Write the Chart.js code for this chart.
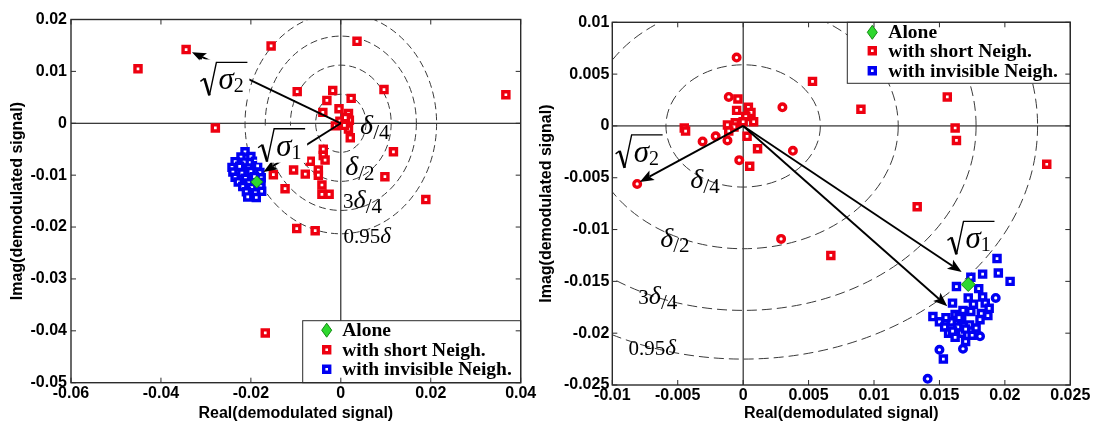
<!DOCTYPE html>
<html>
<head>
<meta charset="utf-8">
<script src="https://cdn.jsdelivr.net/npm/chart.js@4/dist/chart.umd.min.js"></script>
<style>
  html, body { margin: 0; padding: 0; background: #fff; }
  body { width: 1093px; height: 425px; position: relative; overflow: hidden; }
  canvas { position: absolute; top: 0; }
  #left { left: 0; }
  #right { left: 530px; }
</style>
</head>
<body>
<canvas id="left" width="540" height="425"></canvas>
<canvas id="right" width="563" height="425"></canvas>
<script>
// ---------- left panel data ----------
const leftXTicks = [-0.06, -0.04, -0.02, 0, 0.02, 0.04];
const leftYTicks = [-0.05, -0.04, -0.03, -0.02, -0.01, 0, 0.01, 0.02];
const leftAlone = [[-0.0187, -0.0113]];
const leftShort = [
  [-0.0451, 0.0105], [-0.0344, 0.0142], [-0.0279, -0.0009], [-0.0155, 0.0149], [-0.0150, -0.0099],
  [0.0036, 0.0158], [-0.0097, 0.0061], [-0.0018, 0.0063], [-0.0031, 0.0044], [0.0023, 0.0048],
  [0.0096, 0.0065], [0.0367, 0.0055], [-0.0004, 0.0028], [-0.0040, 0.0021], [0.0017, 0.0019],
  [0.0019, 0.0006], [0.0017, -0.0011], [0.0021, -0.0028], [0.0117, -0.0055], [-0.0039, -0.0050],
  [-0.0039, -0.0062], [-0.0035, -0.0071], [-0.0068, -0.0073], [-0.0105, -0.0090], [-0.0079, -0.0098],
  [-0.0050, -0.0090], [-0.0050, -0.0100], [-0.0124, -0.0126], [0.0098, -0.0103], [-0.0042, -0.0119],
  [-0.0042, -0.0137], [-0.0026, -0.0137], [0.0189, -0.0147], [-0.0098, -0.0203], [-0.0057, -0.0207],
  [-0.0168, -0.0404], [-0.0012, -0.0005], [-0.0002, 0.0004], [0.0008, -0.0004], [0.0010, 0.0011]
];
const leftInvisible = [
  [-0.0213, -0.0055], [-0.0222, -0.0065], [-0.0200, -0.0064], [-0.0235, -0.0074], [-0.0215, -0.0075],
  [-0.0190, -0.0073], [-0.0242, -0.0085], [-0.0225, -0.0083], [-0.0205, -0.0086], [-0.0185, -0.0082],
  [-0.0240, -0.0094], [-0.0220, -0.0096], [-0.0200, -0.0093], [-0.0180, -0.0095], [-0.0235, -0.0104],
  [-0.0212, -0.0106], [-0.0192, -0.0103], [-0.0177, -0.0105], [-0.0228, -0.0113], [-0.0205, -0.0115],
  [-0.0178, -0.0114], [-0.0218, -0.0122], [-0.0198, -0.0124], [-0.0178, -0.0122], [-0.0210, -0.0132],
  [-0.0190, -0.0134], [-0.0176, -0.0131], [-0.0207, -0.0142], [-0.0188, -0.0143]
];
// dashed circles: delta/4, delta/2, 3delta/4, 0.95delta
const leftRadii = [0.0056, 0.0112, 0.0168, 0.0213];
// arrows [x0, y0, x1, y1]
const leftArrows = [[0, 0, -0.0331, 0.0137], [0, 0, -0.0172, -0.0094]];

// ---------- right panel data ----------
const rightXTicks = [-0.01, -0.005, 0, 0.005, 0.01, 0.015, 0.02, 0.025];
const rightYTicks = [-0.025, -0.02, -0.015, -0.01, -0.005, 0, 0.005, 0.01];
const rightAlone = [[0.0172, -0.0153]];
const rightShort = [
  [-0.0005, 0.0066], [0.0053, 0.0043], [-0.0011, 0.0028], [-0.0004, 0.0026], [0.0030, 0.0018],
  [-0.0005, 0.0015], [0.0004, 0.0018], [0.0006, 0.0013], [0.0002, 0.0009], [0.0008, 0.0004],
  [-0.0012, 0.0001], [-0.0006, 0.0003], [-0.0045, -0.0002], [-0.0044, -0.0005], [-0.0021, -0.0010],
  [-0.0031, -0.0015], [-0.0012, -0.0014], [0.0003, -0.0010], [0.0011, -0.0022], [0.0038, -0.0024],
  [-0.0003, -0.0033], [0.0005, -0.0039], [-0.0081, -0.0056], [0.0090, 0.0016], [0.0156, 0.0028],
  [0.0162, -0.0002], [0.0163, -0.0014], [0.0232, -0.0037], [0.0133, -0.0078], [0.0029, -0.0109],
  [0.0067, -0.0125], [-0.0007, -0.0001], [-0.0011, -0.0005], [0.0000, 0.0004]
];
const rightShortRound = [0, 2, 4, 14, 15, 16, 19, 20, 22, 29];
const rightInvisible = [
  [0.0194, -0.0128], [0.0183, -0.0143], [0.0195, -0.0142], [0.0204, -0.0150], [0.0174, -0.0146],
  [0.0163, -0.0155], [0.0180, -0.0157], [0.0172, -0.0166], [0.0183, -0.0165], [0.0193, -0.0166],
  [0.0160, -0.0171], [0.0185, -0.0171], [0.0188, -0.0176], [0.0145, -0.0184], [0.0162, -0.0182],
  [0.0174, -0.0179], [0.0182, -0.0181], [0.0187, -0.0183], [0.0150, -0.0189], [0.0159, -0.0189],
  [0.0167, -0.0187], [0.0181, -0.0187], [0.0154, -0.0194], [0.0164, -0.0194], [0.0173, -0.0192],
  [0.0157, -0.0200], [0.0167, -0.0200], [0.0175, -0.0202], [0.0162, -0.0204], [0.0181, -0.0203],
  [0.0170, -0.0208], [0.0168, -0.0215], [0.0150, -0.0216], [0.0153, -0.0225], [0.0141, -0.0244],
  [0.0165, -0.0185], [0.0170, -0.0196], [0.0160, -0.0198], [0.0178, -0.0195], [0.0155, -0.0185],
  [0.0168, -0.0178], [0.0176, -0.0172]
];
const rightInvisibleRound = [9, 29, 31, 32, 34];
const rightRadii = [0.0059, 0.01185, 0.0178, 0.0225];
const rightArrows = [[0, 0, -0.0079, -0.0054], [0, 0, 0.0167, -0.0141], [0, 0, 0.0156, -0.0174]];

const labels = ['Alone', 'with short Neigh.', 'with invisible Neigh.'];

// ---------- drawing helpers ----------
const SERIF = '"Liberation Serif", "Times New Roman", serif';
const SANS = '"Liberation Sans", Arial, sans-serif';
const FRAME = '#2b2b2b';

function pointsOf(arr) { return arr.map(([x, y]) => ({x, y})); }

function drawArrow(ctx, x1, y1, x2, y2) {
  const ang = Math.atan2(y2 - y1, x2 - x1), L = 14, W = 5.5;
  const bx = x2 - L * Math.cos(ang), by = y2 - L * Math.sin(ang);
  ctx.beginPath(); ctx.moveTo(x1, y1); ctx.lineTo(bx + 3 * Math.cos(ang), by + 3 * Math.sin(ang)); ctx.stroke();
  ctx.beginPath();
  ctx.moveTo(x2, y2);
  ctx.lineTo(bx + W * Math.sin(ang), by - W * Math.cos(ang));
  ctx.lineTo(bx + 3 * Math.cos(ang), by + 3 * Math.sin(ang));
  ctx.lineTo(bx - W * Math.sin(ang), by + W * Math.cos(ang));
  ctx.closePath(); ctx.fill();
}

// sqrt(sigma_n) label centred on (cx, cy)
function drawRoot(ctx, cx, cy, sub, whiteBg) {
  const w = 47, h = 34, x0 = cx - w / 2, y0 = cy - h / 2;
  if (whiteBg) { ctx.fillStyle = '#fff'; ctx.fillRect(x0 - 1, y0 - 2, w + 3, h + 3); }
  ctx.fillStyle = '#000'; ctx.strokeStyle = '#000';
  ctx.lineWidth = 1.4;
  ctx.beginPath(); ctx.moveTo(x0, y0 + 20); ctx.lineTo(x0 + 4, y0 + 17); ctx.stroke();
  ctx.lineWidth = 2.6;
  ctx.beginPath(); ctx.moveTo(x0 + 4, y0 + 17); ctx.lineTo(x0 + 9, y0 + h); ctx.stroke();
  ctx.lineWidth = 1.4;
  ctx.beginPath(); ctx.moveTo(x0 + 9, y0 + h); ctx.lineTo(x0 + 16, y0 + 1); ctx.lineTo(x0 + w, y0 + 1); ctx.stroke();
  ctx.textAlign = 'left'; ctx.textBaseline = 'alphabetic';
  ctx.font = 'italic 31px ' + SERIF;
  ctx.fillText('σ', x0 + 18, y0 + 28);
  const sw = ctx.measureText('σ').width;
  ctx.font = '20px ' + SERIF;
  ctx.fillText(sub, x0 + 18 + sw, y0 + 31);
}

// [pre] delta [sub] label, left edge at x, baseline at y
function drawDelta(ctx, x, y, d) {
  ctx.fillStyle = '#000'; ctx.textAlign = 'left'; ctx.textBaseline = 'alphabetic';
  let cx = x;
  if (d.pre) { ctx.font = '21px ' + SERIF; ctx.fillText(d.pre, cx, y); cx += ctx.measureText(d.pre).width; }
  ctx.font = 'italic ' + d.size + 'px ' + SERIF;
  ctx.fillText('δ', cx, y); cx += ctx.measureText('δ').width;
  if (d.sub) { ctx.font = '21px ' + SERIF; ctx.fillText(d.sub, cx, y + 5); }
}

function legendMarker(ctx, ds, x, y) {
  ctx.fillStyle = ds.backgroundColor; ctx.strokeStyle = ds.borderColor; ctx.lineWidth = ds.borderWidth;
  ctx.beginPath();
  if (ds.legendStyle === 'diamond') {
    ctx.moveTo(x, y - 7); ctx.lineTo(x + 5, y); ctx.lineTo(x, y + 7); ctx.lineTo(x - 5, y); ctx.closePath();
  } else {
    ctx.rect(x - 3, y - 3, 6, 6);
  }
  ctx.fill(); ctx.stroke();
}

const deco = {
  id: 'deco',
  beforeDatasetsDraw(chart, args, o) {
    const {ctx, chartArea: a, scales: {x, y}} = chart;
    const x0 = x.getPixelForValue(0), y0 = y.getPixelForValue(0);
    ctx.save();
    ctx.beginPath(); ctx.rect(a.left, a.top, a.width, a.height); ctx.clip();
    ctx.strokeStyle = '#000'; ctx.lineWidth = 1;
    ctx.beginPath();
    ctx.moveTo(x0, a.top); ctx.lineTo(x0, a.bottom);
    ctx.moveTo(a.left, y0); ctx.lineTo(a.right, y0);
    ctx.stroke();
    ctx.setLineDash(o.dash); ctx.strokeStyle = '#3a3a3a'; ctx.lineWidth = 1;
    o.radii.forEach(r => {
      const rx = x.getPixelForValue(r) - x0, ry = y0 - y.getPixelForValue(r);
      ctx.beginPath(); ctx.ellipse(x0, y0, rx, ry, 0, 0, Math.PI * 2); ctx.stroke();
    });
    ctx.restore();
  },
  afterDatasetsDraw(chart, args, o) {
    const {ctx, scales: {x, y}} = chart;
    ctx.save();
    ctx.strokeStyle = '#000'; ctx.fillStyle = '#000'; ctx.lineWidth = 1.9;
    o.arrows.forEach(([a, b, c, d]) => drawArrow(ctx, x.getPixelForValue(a), y.getPixelForValue(b), x.getPixelForValue(c), y.getPixelForValue(d)));
    o.roots.forEach(r => drawRoot(ctx, x.getPixelForValue(r.at[0]), y.getPixelForValue(r.at[1]), r.sub, o.whiteBg));
    o.deltas.forEach(d => drawDelta(ctx, x.getPixelForValue(d.at[0]), y.getPixelForValue(d.at[1]), d));
    ctx.restore();
  },
  afterDraw(chart, args, o) {
    const {ctx, chartArea: a, scales: {x, y}} = chart;
    ctx.save();
    // legend box
    const lg = o.legend;
    const lx = a.right - lg.w, ly = lg.corner === 'top' ? a.top : a.bottom - lg.h;
    ctx.fillStyle = '#fff'; ctx.fillRect(lx, ly, lg.w, lg.h);
    ctx.strokeStyle = FRAME; ctx.lineWidth = 1; ctx.strokeRect(lx, ly, lg.w, lg.h);
    ctx.font = 'bold 19.5px ' + SERIF; ctx.textAlign = 'left'; ctx.textBaseline = 'middle';
    chart.data.datasets.forEach((ds, i) => {
      const ry = ly + lg.rows[i];
      legendMarker(ctx, ds, lx + lg.markerX, ry);
      ctx.fillStyle = '#000';
      ctx.fillText(ds.label, lx + lg.textX, ry + 1);
    });
    // frame and inward ticks on all sides
    ctx.strokeStyle = FRAME; ctx.lineWidth = 1.4;
    ctx.strokeRect(a.left, a.top, a.width, a.height);
    ctx.lineWidth = 1; const t = 5;
    ctx.beginPath();
    o.xTicks.forEach(v => {
      const p = x.getPixelForValue(v);
      ctx.moveTo(p, a.bottom); ctx.lineTo(p, a.bottom - t);
      ctx.moveTo(p, a.top); ctx.lineTo(p, a.top + t);
    });
    o.yTicks.forEach(v => {
      const p = y.getPixelForValue(v);
      ctx.moveTo(a.left, p); ctx.lineTo(a.left + t, p);
      ctx.moveTo(a.right, p); ctx.lineTo(a.right - t, p);
    });
    ctx.stroke();
    ctx.restore();
  }
};

function fmt(v) { return v === 0 ? '0' : String(+v.toFixed(3)); }

function makeChart(id, cfg) {
  const tickFont = {family: SANS, weight: 'bold', size: 16};
  const datasets = [
    {label: labels[0], data: pointsOf(cfg.alone), pointStyle: 'rectRot', pointRadius: cfg.diamond,
     backgroundColor: '#2ed82e', borderColor: '#128a12', borderWidth: 1, legendStyle: 'diamond'},
    {label: labels[1], data: pointsOf(cfg.short), borderColor: '#ee0010', backgroundColor: '#fff', borderWidth: 3.4,
     pointStyle: c => cfg.shortRound.includes(c.dataIndex) ? 'circle' : 'rect',
     pointRadius: c => cfg.shortRound.includes(c.dataIndex) ? 3.3 : 4.3, legendStyle: 'rect'},
    {label: labels[2], data: pointsOf(cfg.invisible), borderColor: '#0000f2', backgroundColor: '#fff', borderWidth: 3.4,
     pointStyle: c => cfg.invRound.includes(c.dataIndex) ? 'circle' : 'rect',
     pointRadius: c => cfg.invRound.includes(c.dataIndex) ? 3.3 : 4.3, legendStyle: 'rect'}
  ];
  return new Chart(document.getElementById(id), {
    type: 'scatter',
    data: {datasets},
    options: {
      responsive: false, animation: false,
      layout: {padding: cfg.padding},
      plugins: {
        legend: {display: false}, tooltip: {enabled: false},
        deco: cfg.deco
      },
      scales: {
        x: {
          type: 'linear', min: cfg.xTicks[0], max: cfg.xTicks[cfg.xTicks.length - 1],
          ticks: {stepSize: cfg.xTicks[1] - cfg.xTicks[0], font: tickFont, color: '#000', padding: 1,
                  maxRotation: 0, autoSkip: false, callback: fmt},
          grid: {display: false, drawTicks: false}, border: {display: false},
          title: {display: true, text: 'Real(demodulated signal)', font: tickFont, color: '#000', padding: {top: 0, bottom: 2}},
          afterFit: s => { s.height = cfg.xHeight; }
        },
        y: {
          type: 'linear', min: cfg.yTicks[0], max: cfg.yTicks[cfg.yTicks.length - 1],
          ticks: {stepSize: cfg.yTicks[1] - cfg.yTicks[0], font: tickFont, color: '#000', padding: cfg.yPad,
                  autoSkip: false, callback: fmt},
          grid: {display: false, drawTicks: false}, border: {display: false},
          title: {display: true, text: 'Imag(demodulated signal)', font: tickFont, color: '#000', padding: {top: cfg.yTitlePad, bottom: 0}},
          afterFit: s => { s.width = cfg.yWidth; }
        }
      }
    },
    plugins: [deco]
  });
}

makeChart('left', {
  alone: leftAlone, short: leftShort, invisible: leftInvisible, shortRound: [], invRound: [], diamond: 6,
  xTicks: leftXTicks, yTicks: leftYTicks,
  padding: {left: 0, top: 19.5, right: 19.3, bottom: 0}, xHeight: 42.3, yWidth: 71, yPad: 4, yTitlePad: 8,
  deco: {
    radii: leftRadii, dash: [7, 4], arrows: leftArrows, whiteBg: true,
    xTicks: leftXTicks, yTicks: leftYTicks,
    roots: [{at: [-0.0260, 0.00865], sub: '2'}, {at: [-0.01316, -0.00413], sub: '1'}],
    deltas: [
      {at: [0.00429, -0.00212], pre: '', sub: '/4', size: 28},
      {at: [0.00096, -0.0100], pre: '', sub: '/2', size: 28},
      {at: [0.00051, -0.01635], pre: '3', sub: '/4', size: 26},
      {at: [0.00058, -0.02313], pre: '0.95', sub: '', size: 23}
    ],
    legend: {corner: 'bottom', w: 218, h: 62, rows: [9.5, 29, 48.5], markerX: 24, textX: 39.5}
  }
});

makeChart('right', {
  alone: rightAlone, short: rightShort, invisible: rightInvisible, shortRound: rightShortRound, invRound: rightInvisibleRound, diamond: 7,
  xTicks: rightXTicks, yTicks: rightYTicks,
  padding: {left: 0, top: 22.3, right: 22.7, bottom: 0}, xHeight: 40, yWidth: 82.3, yPad: 3, yTitlePad: 6.5,
  deco: {
    radii: rightRadii, dash: [10, 5], arrows: rightArrows, whiteBg: false,
    xTicks: rightXTicks, yTicks: rightYTicks,
    roots: [{at: [-0.00795, -0.00241], sub: '2'}, {at: [0.01741, -0.01075], sub: '1'}],
    deltas: [
      {at: [-0.00404, -0.00598], pre: '', sub: '/4', size: 28},
      {at: [-0.00634, -0.01165], pre: '', sub: '/2', size: 28},
      {at: [-0.00801, -0.01718], pre: '3', sub: '/4', size: 26},
      {at: [-0.00877, -0.0221], pre: '0.95', sub: '', size: 23}
    ],
    legend: {corner: 'top', w: 223, h: 61, rows: [10, 28.5, 48.5], markerX: 25, textX: 41}
  }
});
</script>
</body>
</html>
